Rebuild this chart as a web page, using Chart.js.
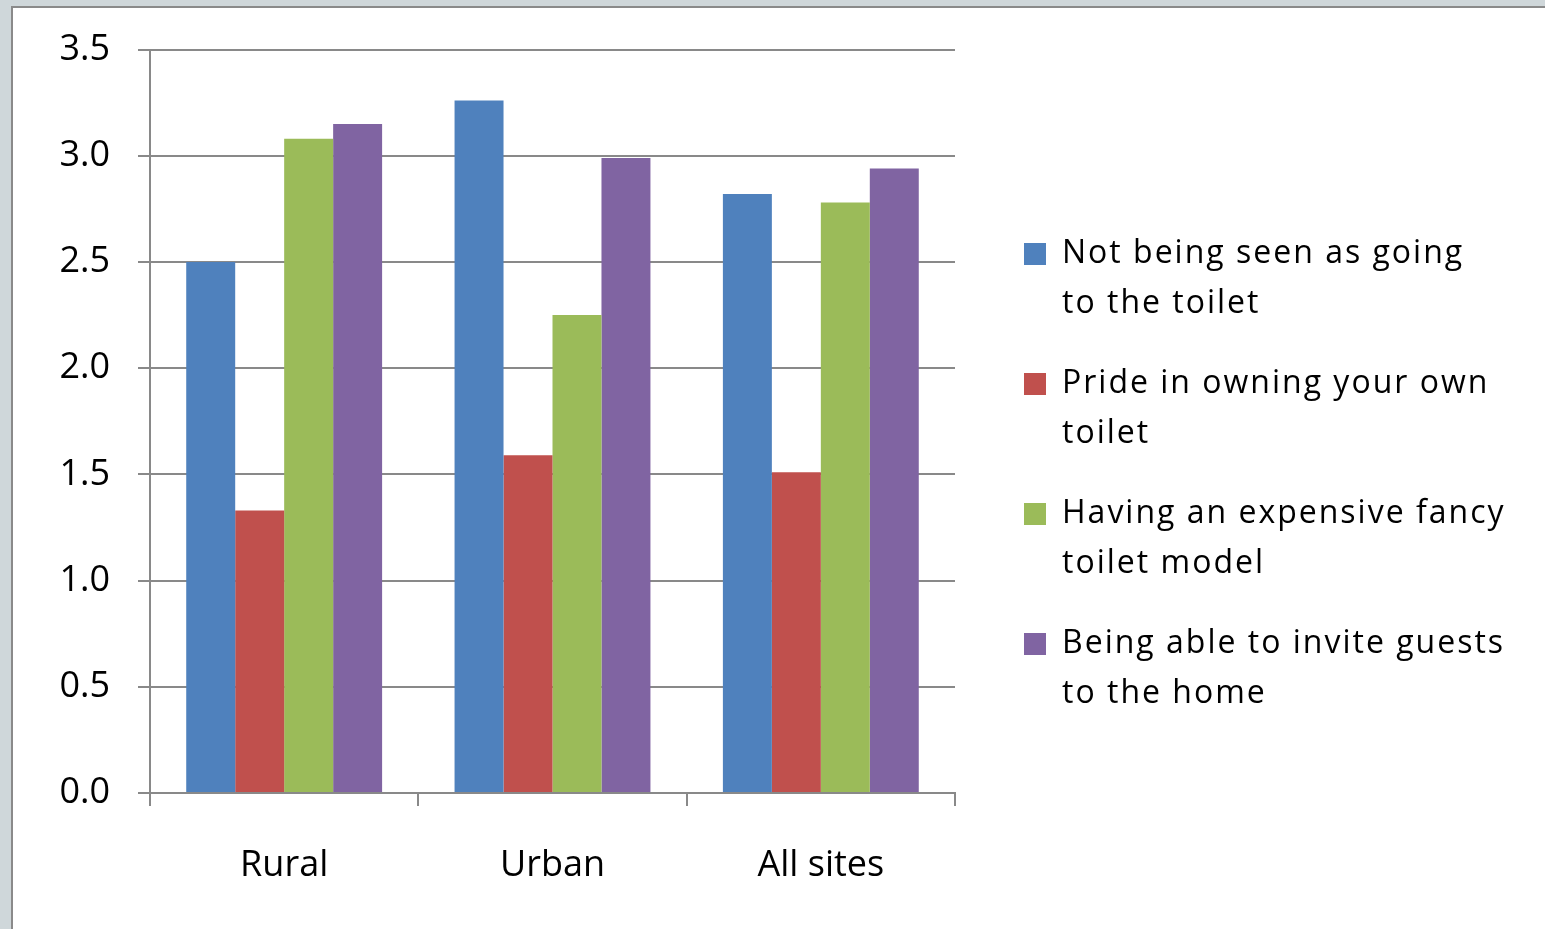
<!DOCTYPE html>
<html>
<head>
<meta charset="utf-8">
<script src="https://cdn.jsdelivr.net/npm/chart.js@4"></script>
<style>
  html, body { margin: 0; padding: 0; background: #cfd7da; overflow: hidden; }
  #frame { position: absolute; left: 11px; top: 6px; width: 1560px; height: 950px; background: #fff; border-left: 2px solid #8a8a8a; border-top: 2px solid #8a8a8a; }
  #chart { position: absolute; left: 0; top: 0; }
</style>
</head>
<body>
<div id="frame"></div>
<canvas id="chart" width="1545" height="929"></canvas>
<script>
const categories = ['Rural', 'Urban', 'All sites'];
const notSeen = [2.50, 3.26, 2.82];
const pride = [1.33, 1.59, 1.51];
const fancy = [3.08, 2.25, 2.78];
const guests = [3.15, 2.99, 2.94];
const yTicks = [0, 0.5, 1, 1.5, 2, 2.5, 3, 3.5];

const gridColor = '#898989';
const tickFont = { family: 'Open Sans', size: 36 };

// legend gets a fixed width so the plot ends where the original one does,
// and its text a little letter spacing like the source
const legendWidth = {
    id: 'legendWidth',
    beforeLayout(chart) {
        let lg = chart.legend;
        if (lg && !lg._fixed) {
            let fit = lg.fit;
            lg.fit = function () {
                fit.call(this);
                this.width = 551;
            };
            let draw = lg.draw;
            lg.draw = function () {
                let c = this.ctx;
                c.save();
                c.translate(0, -6);
                c.letterSpacing = '2px';
                draw.call(this);
                c.restore();
            };
            lg._fixed = true;
        }
    }
};

let ctx = document.getElementById('chart').getContext('2d');

new Chart(ctx, {
    type: 'bar',
    data: {
        labels: categories,
        datasets: [
            { label: ['Not being seen as going', 'to the toilet'], data: notSeen, backgroundColor: '#4f81bd' },
            { label: ['Pride in owning your own', 'toilet'], data: pride, backgroundColor: '#c0504d' },
            { label: ['Having an expensive fancy', 'toilet model'], data: fancy, backgroundColor: '#9bbb59' },
            { label: ['Being able to invite guests', 'to the home'], data: guests, backgroundColor: '#8064a2' }
        ]
    },
    plugins: [legendWidth],
    options: {
        responsive: false,
        animation: false,
        layout: { padding: { top: 49, right: 0, bottom: 0, left: 0 } },
        datasets: { bar: { barPercentage: 1, categoryPercentage: 0.73 } },
        plugins: {
            tooltip: { enabled: false },
            legend: {
                position: 'right',
                maxWidth: 551,
                labels: {
                    boxWidth: 22,
                    boxHeight: 22,
                    padding: 30,
                    color: '#000',
                    font: { family: 'Open Sans', size: 32, lineHeight: '50px' }
                }
            }
        },
        scales: {
            x: {
                grid: { drawOnChartArea: false, color: gridColor, lineWidth: 2, tickLength: 13 },
                border: { color: gridColor, width: 2 },
                ticks: { color: '#000', font: tickFont, padding: 38 },
                afterFit: (s) => { s.height = 136; }
            },
            y: {
                min: 0,
                max: 3.5,
                afterBuildTicks: (s) => { s.ticks = yTicks.map(v => ({ value: v })); },
                grid: { color: gridColor, lineWidth: 2, tickLength: 12 },
                border: { color: gridColor, width: 2 },
                ticks: { color: '#000', font: tickFont, padding: 28, callback: (v) => v.toFixed(1) },
                afterFit: (s) => { s.width = 150; }
            },
            gap: {
                position: 'right',
                display: true,
                grid: { display: false, drawTicks: false },
                border: { display: false },
                ticks: { display: false },
                afterFit: (s) => { s.width = 39; }
            }
        }
    }
});
</script>
</body>
</html>
